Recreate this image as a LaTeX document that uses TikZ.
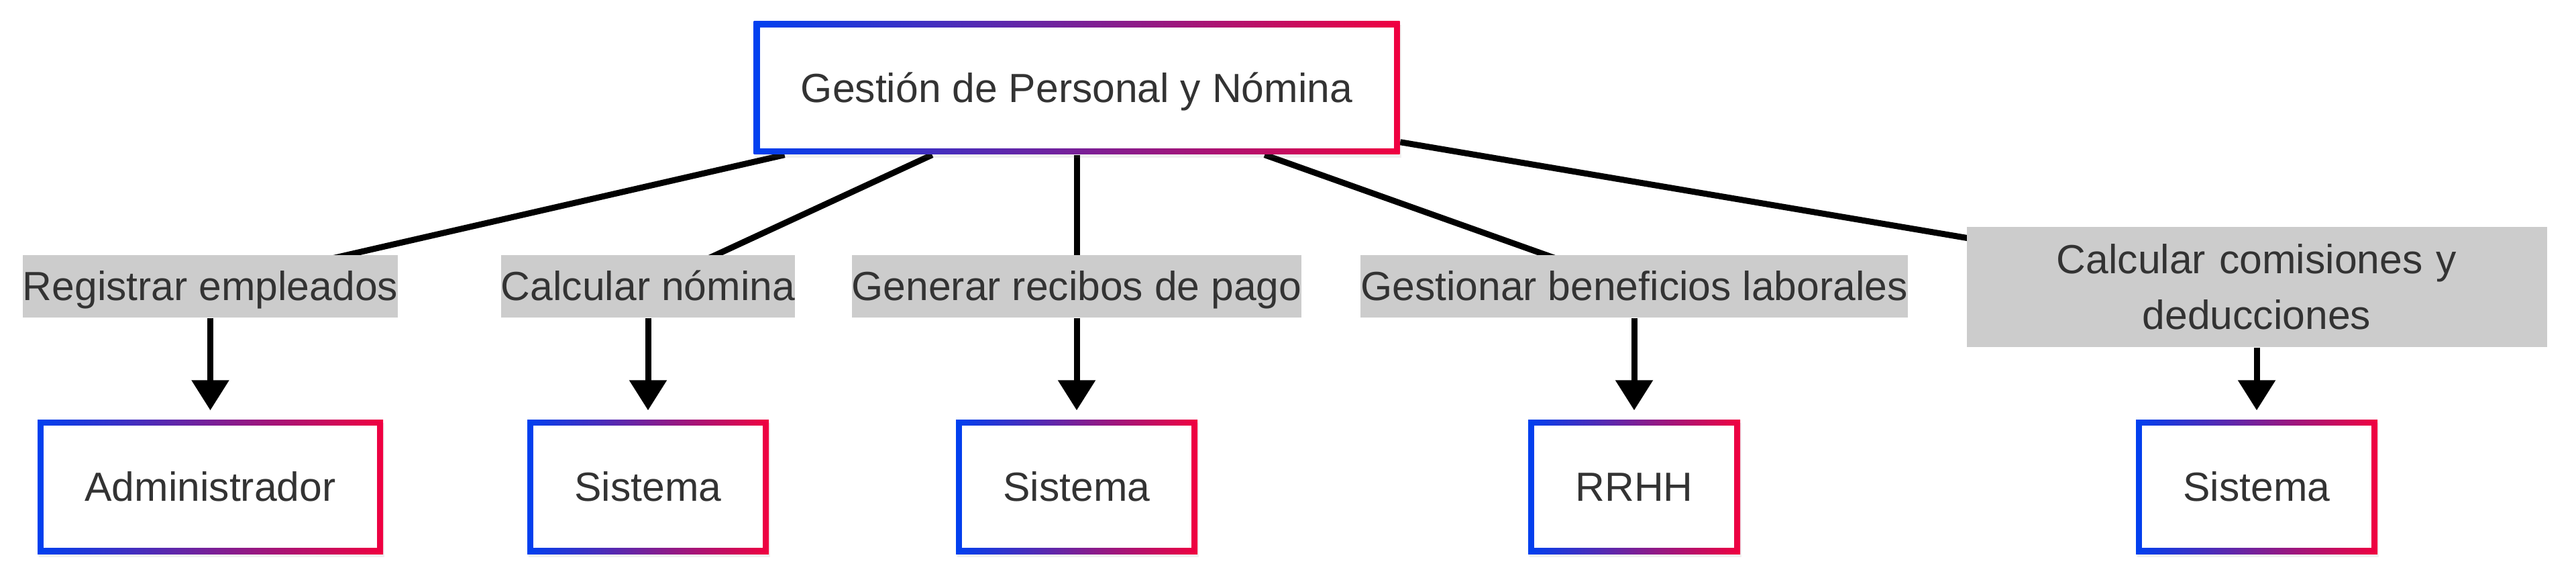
\documentclass[tikz,border=0pt]{standalone}
\usepackage{fontspec}
\setmainfont{Liberation Sans}
\definecolor{gradblue}{RGB}{0, 64, 240}
\definecolor{gradred}{RGB}{240, 0, 64}
\definecolor{txtgray}{RGB}{51, 51, 51}
\definecolor{lblgray}{RGB}{204, 204, 204}
\usetikzlibrary{arrows.meta, positioning, shadows}
\pgfdeclarelayer{background}
\pgfsetlayers{background,main}
\newcommand{\diafont}{\fontsize{17.25}{23.6}\selectfont}
\tikzset{
  gradbox/.style={rectangle, inner sep=0pt, minimum height=2cm, text=txtgray, font=\diafont,
    text height=12pt, text depth=0pt,
    drop shadow={opacity=0.12, shadow xshift=0.02cm, shadow yshift=-0.05cm},
    left color=gradblue, right color=gradred,
    path picture={\fill[white] ([shift={(0.09cm,0.09cm)}]path picture bounding box.south west)
      rectangle ([shift={(-0.09cm,-0.09cm)}]path picture bounding box.north east);}},
  edgelabel/.style={rectangle, fill=lblgray, inner sep=0pt, minimum height=0.93cm, text=txtgray, font=\diafont,
    text height=12pt, text depth=0pt},
  link/.style={line width=0.09cm, black},
  linkarrow/.style={link, -{Triangle[width=0.54cm, length=0.45cm]}, shorten >=0.13cm},
}

\begin{document}
\begin{tikzpicture}
  \useasboundingbox (0,0) rectangle (38.4,8.6);

  % central process
  \node[gradbox, minimum width=9.63cm, minimum height=1.98cm] (nomina) at (16.05,7.29) {Gestión de Personal y Nómina};

  % actors
  \node[gradbox, minimum width=5.15cm] (admin) at (3.135,1.35) {Administrador};
  \node[gradbox, minimum width=3.6cm] (sistemaA) at (9.66,1.35) {Sistema};
  \node[gradbox, minimum width=3.6cm] (sistemaB) at (16.05,1.35) {Sistema};
  \node[gradbox, minimum width=3.16cm] (rrhh) at (24.36,1.35) {RRHH};
  \node[gradbox, minimum width=3.6cm] (sistemaC) at (33.64,1.35) {Sistema};

  % labels on the links
  \node[edgelabel] (registrar) at (3.135,4.335) {Registrar empleados};
  \node[edgelabel] (calcular) at (9.66,4.335) {Calcular nómina};
  \node[edgelabel] (recibos) at (16.05,4.335) {Generar recibos de pago};
  \node[edgelabel] (beneficios) at (24.36,4.335) {Gestionar beneficios laborales};
  \node[edgelabel, text width=8.65cm, align=center, minimum height=1.79cm, text height=, text depth=] (comisiones) at (33.64,4.325) {Calcular comisiones y\\deducciones};

  % links, behind the labels
  \begin{pgfonlayer}{background}
    \foreach \lbl in {registrar, calcular, recibos, beneficios, comisiones}
      \draw[link] (nomina) -- (\lbl.center);
  \end{pgfonlayer}

  \draw[linkarrow] (registrar) -- (admin);
  \draw[linkarrow] (calcular) -- (sistemaA);
  \draw[linkarrow] (recibos) -- (sistemaB);
  \draw[linkarrow] (beneficios) -- (rrhh);
  \draw[linkarrow] (comisiones) -- (sistemaC);
\end{tikzpicture}
\end{document}
